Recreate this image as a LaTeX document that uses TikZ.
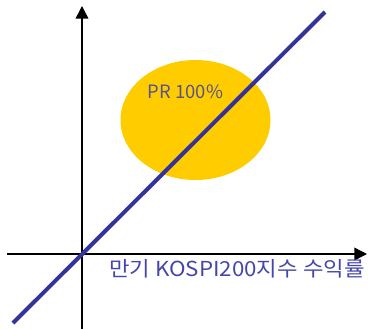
\documentclass[tikz,border=0pt]{standalone}
\usepackage{graphicx}
\usepackage{fontspec}
\newfontfamily\krfont{Noto Sans CJK KR}
\usetikzlibrary{arrows.meta}
\definecolor{payline}{RGB}{51,51,153}
\definecolor{zonefill}{RGB}{255,204,0}
\definecolor{zonetext}{RGB}{85,85,140}
\definecolor{axistext}{RGB}{70,70,170}
\begin{document}
\begin{tikzpicture}[x=0.75pt, y=-0.75pt]
    \useasboundingbox (0,0) rectangle (368,329);
    \def\ox{82}         % origin x
    \def\oy{254}        % origin y
    % Draw the highlighted zone
    \fill[zonefill] (195.5,120) ellipse (75 and 60);
    \node[text=zonetext, font=\krfont\fontsize{13.8}{16}\selectfont, inner sep=0] (pr) at (185.5,92) {PR 100\%};
    % Draw the axes
    \draw[line width=1.1pt, -{Triangle[length=9.5pt, width=9.5pt]}] (7,\oy) coordinate (X1) -- (367,\oy) coordinate (X2);
    \draw[line width=1.1pt, -{Triangle[length=9.5pt, width=9.5pt]}] (\ox,329) coordinate (Y1) -- (\ox,6) coordinate (Y2);
    % Draw the payoff line through the origin
    \draw[payline, line width=3pt] (13,323) coordinate (P1) -- (325,12) coordinate (P2);
    % Axis label
    \node[text=axistext, font=\krfont\fontsize{15.5}{18}\selectfont, inner sep=0, anchor=west] (xlabel) at (109,269) {\scalebox{1.08}[1]{만기 KOSPI200지수 수익률}};
\end{tikzpicture}
\end{document}
